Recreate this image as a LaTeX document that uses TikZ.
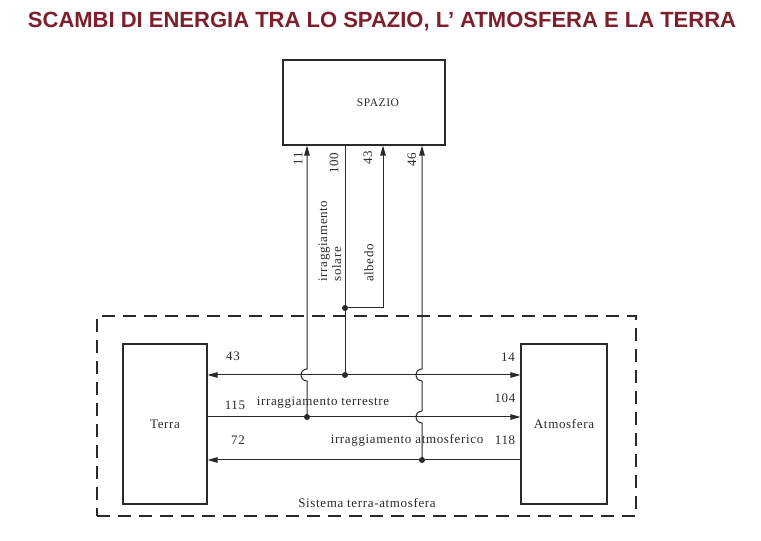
\documentclass[tikz,border=0pt]{standalone}
\usepackage{fontspec}
\setmainfont[LetterSpace=5]{Liberation Serif}
\newfontfamily\titlefont{Liberation Sans}
\usepackage{xcolor}
\definecolor{titleRed}{HTML}{7D1F2D}
\definecolor{lineGray}{HTML}{2A2A2A}
\usepackage{tikz}
\usetikzlibrary{
    arrows.meta,
    positioning
}
\tikzset{
    % Base style for all boxes
    box/.style={
        draw=lineGray,
        line width=1.1pt,
        font=\fontsize{13}{14}\selectfont,
        text=lineGray,
        align=center,
    },
    % Flow arrows - thin line, narrow filled tip
    flow/.style={
        -{Triangle[length=10pt, width=5.5pt]},
        line width=1pt,
        draw=lineGray,
    },
    % Plain link without tip
    link/.style={
        line width=1pt,
        draw=lineGray,
    },
    % Junction dots
    dot/.style={
        circle,
        fill=lineGray,
        inner sep=0pt,
        minimum size=6pt,
    },
    % Numbers and labels on the flows
    value/.style={
        font=\fontsize{13}{14}\selectfont,
        text=lineGray,
        inner sep=1pt,
    },
    vvalue/.style={
        value,
        rotate=90,
    },
    % Dashed frame of the system
    system/.style={
        draw=lineGray,
        line width=1.3pt,
        dash pattern=on 13pt off 8pt,
    },
}

\begin{document}
\begin{tikzpicture}[x=1pt, y=1pt]
    \useasboundingbox (0,0) rectangle (761,541);

    \node (title) at (382,519) {\titlefont\bfseries\fontsize{22}{24}\selectfont\color{titleRed}SCAMBI DI ENERGIA TRA LO SPAZIO, L’ ATMOSFERA E LA TERRA};

    \node (spazio) [box, minimum width=162pt, minimum height=85pt, font=\fontsize{11.5}{13}\selectfont] at (364,438.5) {\hspace*{28pt}SPAZIO};
    \node (sistema) [system, minimum width=539pt, minimum height=200pt] at (366.5,125) {};
    \node (terra) [box, minimum width=84pt, minimum height=160pt] at (165,117) {Terra};
    \node (atmo) [box, minimum width=86pt, minimum height=160pt] at (564,117) {Atmosfera};

    % junctions
    \node (d11) [dot] at (307,124) {};
    \node (d100) [dot] at (345,166) {};
    \node (dalb) [dot] at (345,233) {};
    \node (d46) [dot] at (422,81) {};
    \coordinate (albcorner) at (383,233);

    % flows to and from space
    \draw [flow] (d11.center) -- (307,160) arc[start angle=-90, end angle=-270, radius=6pt] -- (spazio.south -| d11);
    \draw [link] (spazio.south -| d100) -- (d100.center);
    \draw [flow] (dalb.center) -- (albcorner) -- (spazio.south -| albcorner);
    \draw [flow] (d46.center) -- (422,118) arc[start angle=-90, end angle=-270, radius=6pt]
        -- (422,160) arc[start angle=-90, end angle=-270, radius=6pt] -- (spazio.south -| d46);

    % flows between earth and atmosphere
    \draw [flow] (d100.center) -- (terra.east |- d100);
    \draw [flow] (d100.center) -- (atmo.west |- d100);
    \draw [flow] (terra.east |- d11) -- (atmo.west |- d11);
    \draw [flow] (atmo.west |- d46) -- (terra.east |- d46);

    % values
    \node (v11) [vvalue] at (298,382) {11};
    \node (v100) [vvalue] at (334,378) {100};
    \node (v43up) [vvalue] at (368,383) {43};
    \node (v46) [vvalue] at (412,381) {46};
    \node (lsolare) [vvalue, align=left] at (330,300) {irraggiamento\\solare};
    \node (lalbedo) [vvalue] at (369,278) {albedo};

    \node (v43) [value] at (233,185) {43};
    \node (v14) [value] at (508,184) {14};
    \node (v115) [value] at (235,136) {115};
    \node (lterr) [value] at (323,138) {irraggiamento terrestre};
    \node (v104) [value] at (505,143) {104};
    \node (v72) [value] at (238,101) {72};
    \node (latm) [value] at (407,101) {irraggiamento atmosferico};
    \node (v118) [value] at (505,101) {118};

    \node (lsistema) [value] at (367,38) {Sistema terra-atmosfera};
\end{tikzpicture}
\end{document}
